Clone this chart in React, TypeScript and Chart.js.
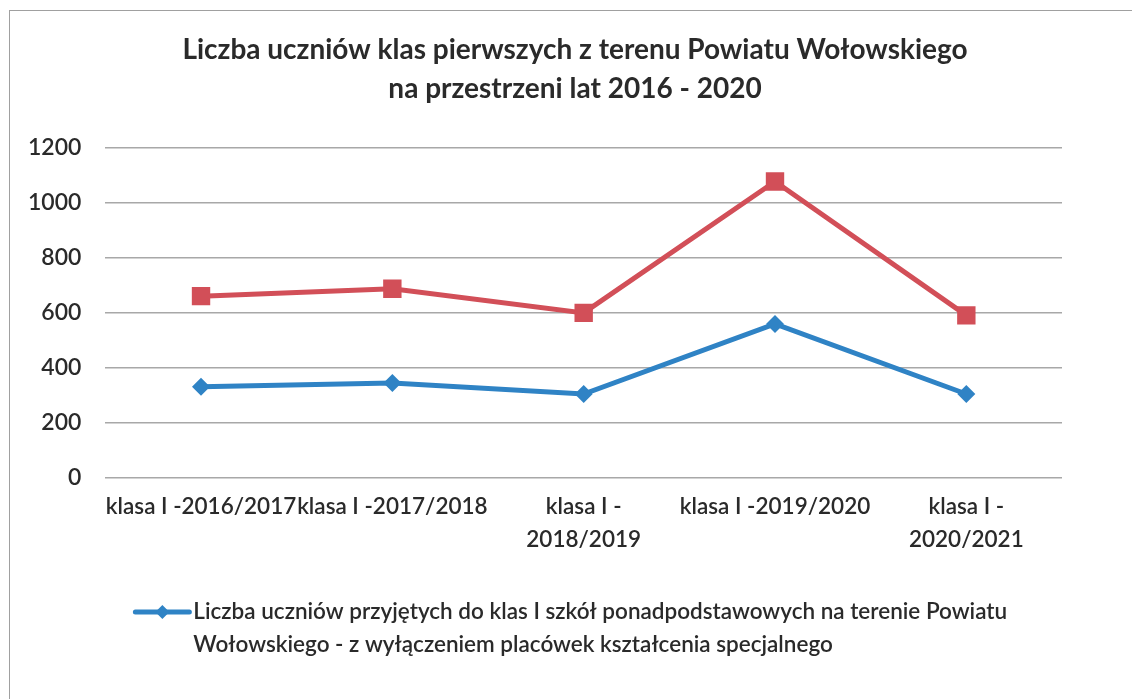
import React, { useEffect, useRef } from 'react';
import { Chart, registerables } from 'chart.js';

Chart.register(...registerables);

const titleLines = [
  'Liczba uczniów klas pierwszych z terenu Powiatu Wołowskiego',
  'na przestrzeni lat 2016 - 2020',
];

const categories: (string | string[])[] = [
  'klasa I -2016/2017',
  'klasa I -2017/2018',
  ['klasa I -', '2018/2019'],
  'klasa I -2019/2020',
  ['klasa I -', '2020/2021'],
];

const admittedValues = [331, 345, 305, 560, 305];
const otherValues = [661, 688, 600, 1078, 591];

const yMin = 0;
const yMax = 1200;
const yStep = 200;

const admittedLabelLines = [
  'Liczba uczniów przyjętych do klas I szkół ponadpodstawowych na terenie Powiatu',
  'Wołowskiego - z wyłączeniem placówek kształcenia specjalnego',
];
const otherLabel = 'Liczba uczniów klas pierwszych';

const BLUE = '#2F83C5';
const RED = '#D24F58';
const TEXT = '#2a2a2a';
const FONT = 'Lato, "Open Sans", sans-serif';

const titlePlugin = {
  id: 'customTitle',
  afterDraw(chart: any) {
    const ctx = chart.ctx;
    ctx.save();
    ctx.fillStyle = TEXT;
    ctx.font = `bold 28px ${FONT}`;
    ctx.textAlign = 'center';
    ctx.textBaseline = 'middle';
    const cx = (chart.width + 18) / 2;
    titleLines.forEach((line, i) => {
      ctx.fillText(line, cx, 50 + i * 39);
    });
    ctx.restore();
  },
};

const legendPlugin = {
  id: 'customLegend',
  afterDraw(chart: any) {
    const ctx = chart.ctx;
    const ds = chart.data.datasets[0];
    const area = chart.chartArea;
    const x0 = area.left + 30;
    const y0 = 612;
    ctx.save();
    ctx.strokeStyle = ds.borderColor;
    ctx.lineWidth = 5;
    ctx.lineCap = 'round';
    ctx.beginPath();
    ctx.moveTo(x0, y0);
    ctx.lineTo(x0 + 54, y0);
    ctx.stroke();
    ctx.fillStyle = ds.backgroundColor;
    ctx.beginPath();
    const r = 7;
    const cx = x0 + 27;
    ctx.moveTo(cx, y0 - r);
    ctx.lineTo(cx + r, y0);
    ctx.lineTo(cx, y0 + r);
    ctx.lineTo(cx - r, y0);
    ctx.closePath();
    ctx.fill();
    ctx.fillStyle = TEXT;
    ctx.font = `600 22.5px ${FONT}`;
    ctx.textBaseline = 'middle';
    ctx.textAlign = 'left';
    admittedLabelLines.forEach((line, i) => {
      ctx.fillText(line, x0 + 58, y0 + i * 33);
    });
    ctx.restore();
  },
};

export default function App() {
  const canvasRef = useRef<HTMLCanvasElement | null>(null);

  useEffect(() => {
    if (!canvasRef.current) return;
    const chart = new Chart(canvasRef.current, {
      type: 'line',
      data: {
        labels: categories,
        datasets: [
          {
            label: admittedLabelLines.join(' '),
            data: admittedValues,
            borderColor: BLUE,
            backgroundColor: BLUE,
            borderWidth: 5,
            pointStyle: 'rectRot',
            pointRadius: 9,
            pointBorderWidth: 0,
            tension: 0,
          },
          {
            label: otherLabel,
            data: otherValues,
            borderColor: RED,
            backgroundColor: RED,
            borderWidth: 5,
            pointStyle: 'rect',
            pointRadius: 13,
            pointBorderWidth: 0,
            tension: 0,
          },
        ],
      },
      options: {
        animation: false,
        responsive: true,
        maintainAspectRatio: false,
        layout: { padding: { left: 4, right: 70, top: 148, bottom: 131 } },
        plugins: {
          legend: { display: false },
          tooltip: { enabled: false },
          title: { display: false },
        },
        scales: {
          x: {
            offset: true,
            grid: { display: false, tickLength: 0 },
            border: { display: false },
            ticks: {
              autoSkip: false,
              maxRotation: 0,
              minRotation: 0,
              padding: 12,
              color: TEXT,
              font: { family: FONT, size: 22.5, weight: '600', lineHeight: 1.47 },
            },
          },
          y: {
            min: yMin,
            max: yMax,
            ticks: {
              stepSize: yStep,
              padding: 24,
              color: TEXT,
              font: { family: FONT, size: 23, weight: '600' },
              callback: (v: any) => String(v),
            },
            grid: { color: '#a8a8a8', lineWidth: 1.5, drawTicks: false, tickLength: 0 },
            border: { display: false },
          },
        },
      },
      plugins: [titlePlugin, legendPlugin],
    });
    return () => chart.destroy();
  }, []);

  return (
    <div
      style={{
        position: 'fixed',
        left: 0,
        top: 0,
        width: 1132,
        height: 699,
        overflow: 'hidden',
        background: '#ffffff',
      }}
    >
      <div
        style={{
          position: 'absolute',
          left: 9,
          top: 10,
          width: 1300,
          height: 900,
          borderLeft: '1.5px solid #a0a0a0',
          borderTop: '1.5px solid #a0a0a0',
        }}
      />
      <div style={{ position: 'absolute', left: 0, top: 0, width: 1132, height: 699 }}>
        <canvas ref={canvasRef} />
      </div>
    </div>
  );
}
